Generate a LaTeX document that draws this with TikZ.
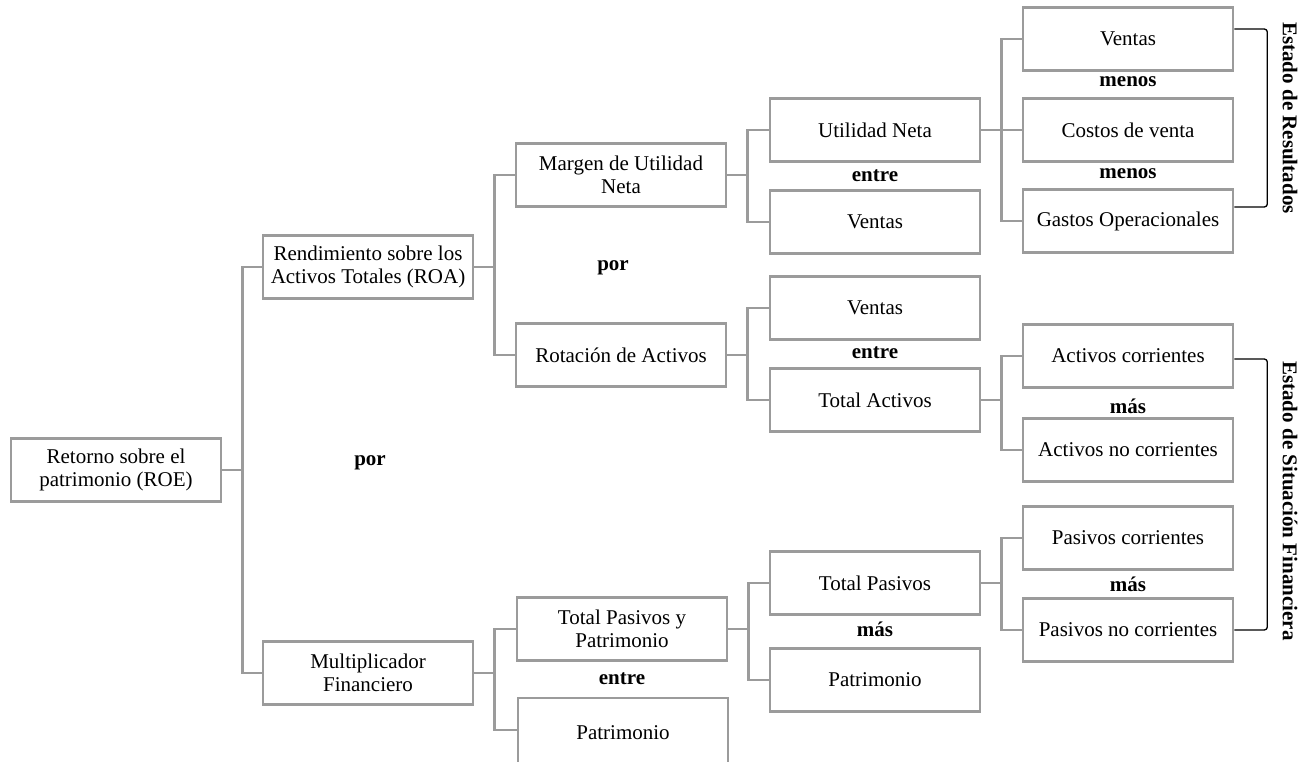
\documentclass[tikz,border=0pt]{standalone}
\usepackage{fontspec}
\setmainfont{Liberation Serif}
\definecolor{boxgray}{RGB}{155,155,155}
\begin{document}
\begin{tikzpicture}[x=1pt,y=-1pt,
  box/.style={draw=boxgray,line width=2.6pt,minimum width=210pt,minimum height=63pt,align=center,inner sep=2pt,font=\fontsize{21}{23}\selectfont},
  lnk/.style={draw=boxgray,line width=2.6pt},
  op/.style={font=\bfseries\fontsize{21}{23}\selectfont,inner sep=1pt},
  brace/.style={draw=black,line width=1.3pt,rounded corners=3pt}]
\useasboundingbox (0,0) rectangle (1305,761);
\begin{scope}
\clip (-5,-5) rectangle (1310,761);
% level 0
\node[box] (roe) at (116,470) {Retorno sobre el\\patrimonio (ROE)};
% level 1
\node[box] (roa) at (368,267) {Rendimiento sobre los\\Activos Totales (ROA)};
\node[box] (mult) at (368,673) {Multiplicador\\Financiero};
% level 2
\node[box] (mun) at (621,175) {Margen de Utilidad\\Neta};
\node[box] (rot) at (621,355) {Rotación de Activos};
\node[box] (tpp) at (622,629) {Total Pasivos y\\Patrimonio};
\node[box,minimum height=70pt] (patA) at (623,733) {Patrimonio};
% level 3
\node[box] (un) at (875,130) {Utilidad Neta};
\node[box] (v1) at (875,222) {Ventas};
\node[box] (v2) at (875,308) {Ventas};
\node[box] (ta) at (875,400) {Total Activos};
\node[box] (tp) at (875,583) {Total Pasivos};
\node[box] (pat) at (875,680) {Patrimonio};
% level 4
\node[box] (rv) at (1128,39) {Ventas};
\node[box] (cv) at (1128,130) {Costos de venta};
\node[box] (go) at (1128,221) {Gastos Operacionales};
\node[box] (ac) at (1128,356) {Activos corrientes};
\node[box] (anc) at (1128,450) {Activos no corrientes};
\node[box] (pc) at (1128,538) {Pasivos corrientes};
\node[box] (pnc) at (1128,630) {Pasivos no corrientes};
\end{scope}
% connectors
\draw[lnk] (roe.east) -- +(20,0) |- (roa.west);
\draw[lnk] (roe.east) -- +(20,0) |- (mult.west);
\draw[lnk] (roa.east) -- +(20,0) |- (mun.west);
\draw[lnk] (roa.east) -- +(20,0) |- (rot.west);
\draw[lnk] (mult.east) -- +(20,0) |- (tpp.west);
\draw[lnk] (mult.east) -- +(20,0) |- ([yshift=3pt]patA.west);
\draw[lnk] (mun.east) -- +(20,0) |- (un.west);
\draw[lnk] (mun.east) -- +(20,0) |- (v1.west);
\draw[lnk] (rot.east) -- +(20,0) |- (v2.west);
\draw[lnk] (rot.east) -- +(20,0) |- (ta.west);
\draw[lnk] (tpp.east) -- +(20,0) |- (tp.west);
\draw[lnk] (tpp.east) -- +(20,0) |- (pat.west);
\draw[lnk] (un.east) -- +(20,0) |- (rv.west);
\draw[lnk] (un.east) -- +(20,0) |- (cv.west);
\draw[lnk] (un.east) -- +(20,0) |- (go.west);
\draw[lnk] (ta.east) -- +(20,0) |- (ac.west);
\draw[lnk] (ta.east) -- +(20,0) |- (anc.west);
\draw[lnk] (tp.east) -- +(20,0) |- (pc.west);
\draw[lnk] (tp.east) -- +(20,0) |- (pnc.west);
% operators
\node[op] (o1) at (1128,82) {menos};
\node[op] (o2) at (1128,174) {menos};
\node[op] (o3) at (875,176) {entre};
\node[op] (o4) at (875,353) {entre};
\node[op] (o5) at (622,679) {entre};
\node[op] (o6) at (1128,406) {más};
\node[op] (o7) at (1128,584) {más};
\node[op] (o8) at (875,629) {más};
\node[op] (o9) at (613,268) {por};
\node[op] (o10) at (370,463) {por};
% braces
\draw[brace] ([yshift=10pt]rv.east) -- ++(33,0) |- ([yshift=14pt]go.east);
\draw[brace] ([yshift=-3pt]ac.east) -- ++(33,0) |- (pnc.east);
\node[op,rotate=-90] (er) at (1290,118) {Estado de Resultados};
\node[op,rotate=-90] (esf) at (1290,501) {Estado de Situación Financiera};
\end{tikzpicture}
\end{document}
